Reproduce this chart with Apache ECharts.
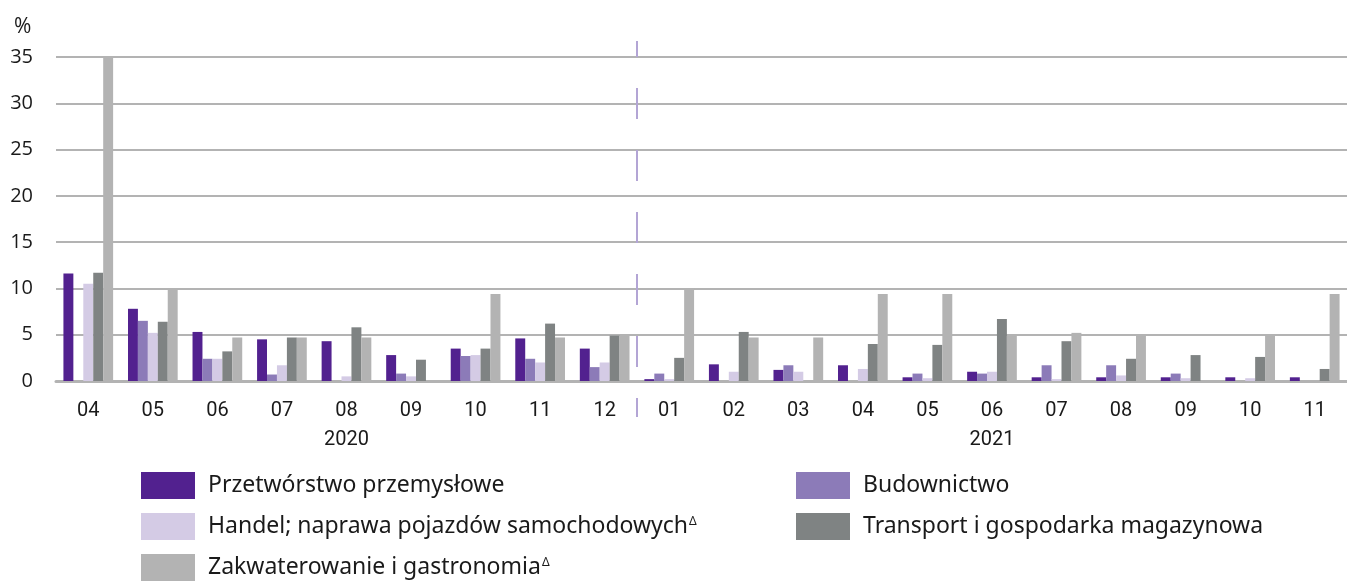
<!DOCTYPE html>
<html>
<head>
<meta charset="utf-8">
<title>Udział przedsiębiorstw</title>
<script src="https://cdn.jsdelivr.net/npm/echarts@6/dist/echarts.min.js"></script>
<style>
	html, body { margin: 0; padding: 0; background: #fff; }
	#e_chart_1 { width: 1347px; height: 581px; }
</style>
</head>
<body>
<div id="e_chart_1"></div>
<script>
"use strict";

/*****Data start*****/
var months = ['2020-04', '2020-05', '2020-06', '2020-07', '2020-08', '2020-09', '2020-10', '2020-11', '2020-12',
	'2021-01', '2021-02', '2021-03', '2021-04', '2021-05', '2021-06', '2021-07', '2021-08', '2021-09', '2021-10', '2021-11'];
var yearLabels = ['', '', '', '', '2020', '', '', '', '', '', '', '', '', '', '2021', '', '', '', '', ''];
var yTicks = [0, 5, 10, 15, 20, 25, 30, 35];

var przetworstwo = [11.6, 7.8, 5.3, 4.5, 4.3, 2.8, 3.5, 4.6, 3.5, 0.2, 1.8, 1.2, 1.7, 0.4, 1.0, 0.4, 0.4, 0.4, 0.4, 0.4];
var budownictwo = [0, 6.5, 2.4, 0.7, 0, 0.8, 2.7, 2.4, 1.5, 0.8, 0, 1.7, 0, 0.8, 0.8, 1.7, 1.7, 0.8, 0, 0];
var handel = [10.5, 5.2, 2.4, 1.7, 0.5, 0.5, 2.8, 2.0, 2.0, 0.2, 1.0, 1.0, 1.3, 0.3, 1.0, 0.2, 0.6, 0.3, 0.3, 0];
var transport = [11.7, 6.4, 3.2, 4.7, 5.8, 2.3, 3.5, 6.2, 4.9, 2.5, 5.3, 0, 4.0, 3.9, 6.7, 4.3, 2.4, 2.8, 2.6, 1.3];
var zakwaterowanie = [35, 9.9, 4.7, 4.7, 4.7, 0, 9.4, 4.7, 4.9, 10.0, 4.7, 4.7, 9.4, 9.4, 4.9, 5.2, 4.9, 0, 4.9, 9.4];

var seriesNames = ['Przetwórstwo przemysłowe', 'Budownictwo', 'Handel; naprawa pojazdów samochodowych',
	'Transport i gospodarka magazynowa', 'Zakwaterowanie i gastronomia'];
var seriesMarks = [false, false, true, false, true];
var seriesColors = ['#52218f', '#8c7bb8', '#d4cbe5', '#7f8383', '#b3b3b3'];
var seriesData = [przetworstwo, budownictwo, handel, transport, zakwaterowanie];
/*****Data end*****/

var textColor = '#1a1a1a';
var gridColor = '#b3b3b3';

/*****Legend, one per item*****/
var legendPos = [
	{ left: 141, top: 472 },
	{ left: 796, top: 472 },
	{ left: 141, top: 513 },
	{ left: 796, top: 513 },
	{ left: 141, top: 554 }
];
var legends = seriesNames.map(function (name, i) {
	return {
		data: [name],
		left: legendPos[i].left,
		top: legendPos[i].top,
		padding: 0,
		icon: 'rect',
		itemWidth: 54,
		itemHeight: 27,
		selectedMode: false,
		formatter: function (n) {
			return seriesMarks[i] ? n + '{s|Δ}' : n;
		},
		textStyle: {
			color: textColor,
			fontFamily: 'Noto Sans',
			fontSize: 23,
			padding: [0, 0, 0, 8],
			rich: {
				s: { fontSize: 12, fontFamily: 'Noto Sans', color: textColor, padding: [0, 0, 10, 1] }
			}
		}
	};
});

var series = seriesNames.map(function (name, i) {
	return {
		name: name,
		type: 'bar',
		barGap: 0,
		barCategoryGap: '23%',
		itemStyle: { color: seriesColors[i] },
		emphasis: { disabled: true },
		data: seriesData[i]
	};
});

var eChart_1 = echarts.init(document.getElementById('e_chart_1'));
var option = {
	animation: false,
	title: {
		text: '%',
		left: 9,
		top: 12,
		textStyle: { color: textColor, fontFamily: 'Open Sans', fontSize: 21, fontWeight: 'normal' }
	},
	legend: legends,
	grid: { left: 56, right: -9, top: 57, bottom: 200, containLabel: false },
	xAxis: [{
		type: 'category',
		data: months,
		axisTick: { show: false },
		axisLine: { lineStyle: { color: gridColor, width: 3 } },
		axisLabel: {
			interval: 0,
			margin: 20,
			color: textColor,
			fontFamily: 'Roboto',
			fontSize: 20,
			formatter: function (v) { return v.slice(5); }
		}
	}, {
		type: 'category',
		position: 'bottom',
		data: months,
		axisTick: { show: false },
		axisLine: { show: false },
		axisLabel: {
			interval: 0,
			margin: 49,
			color: textColor,
			fontFamily: 'Roboto',
			fontSize: 20,
			formatter: function (v, idx) { return yearLabels[idx]; }
		}
	}],
	yAxis: {
		type: 'value',
		min: yTicks[0],
		max: yTicks[yTicks.length - 1],
		interval: yTicks[1] - yTicks[0],
		axisLine: { show: false },
		axisTick: { show: false },
		axisLabel: { margin: 23, color: textColor, fontFamily: 'Open Sans', fontSize: 20 },
		splitLine: { lineStyle: { color: gridColor, width: 2 } }
	},
	series: series
};
eChart_1.setOption(option);

/*****Divider between 2020 and 2021*****/
var xLeft = eChart_1.convertToPixel({ xAxisIndex: 0 }, months[8]);
var xRight = eChart_1.convertToPixel({ xAxisIndex: 0 }, months[9]);
var xMid = Math.round((xLeft + xRight) / 2);
var yTop = eChart_1.convertToPixel({ yAxisIndex: 0 }, yTicks[yTicks.length - 1]) - 16;
var yBottom = eChart_1.convertToPixel({ yAxisIndex: 0 }, yTicks[0]) + 36;
eChart_1.setOption({
	graphic: [{
		type: 'line',
		z: 100,
		shape: { x1: xMid, y1: yTop, x2: xMid, y2: yBottom },
		style: { stroke: '#b3a5d5', lineWidth: 2, lineDash: [31, 31], lineDashOffset: 15 }
	}]
});
</script>
</body>
</html>
